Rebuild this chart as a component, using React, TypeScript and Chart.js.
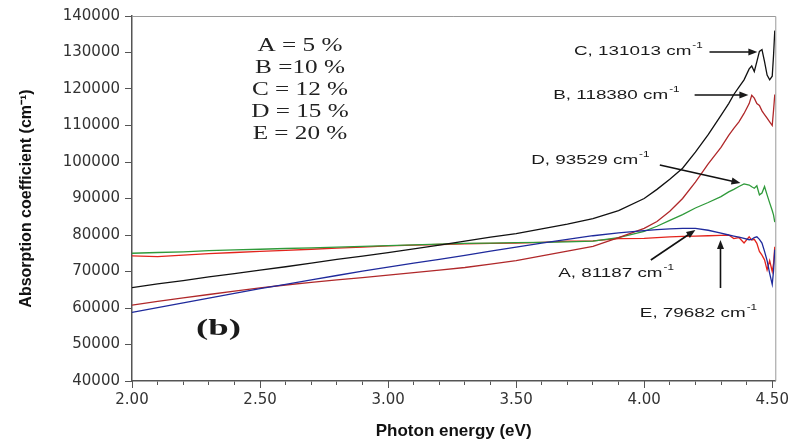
import React, { useEffect, useRef } from 'react';
import { Chart, registerables } from 'chart.js';

Chart.register(...registerables);

// Photon energy (eV), shared by every curve
const energy = [
  2.0, 2.1, 2.2, 2.3, 2.4, 2.5, 2.6, 2.7, 2.8, 2.9,
  3.0, 3.1, 3.2, 3.3, 3.4, 3.5, 3.6, 3.7, 3.8, 3.9,
  4.0, 4.05, 4.1, 4.15, 4.2, 4.25, 4.3,
  4.33, 4.35, 4.37, 4.39,
  4.41, 4.42, 4.43, 4.44, 4.45, 4.46, 4.47, 4.48, 4.49, 4.5,
  4.505, 4.51,
];

// A = 5 %
const seriesA = [
  58800, 60100, 61400, 62700, 64000, 65300, 66500, 67700, 68900, 70100,
  71200, 72300, 73300, 74400, 75600, 76700, 77800, 78800, 79800, 80600,
  81200, 81500, 81700, 81800, 81800, 81300, 80500,
  80000, 79700, 79400, 79100,
  78700, 78800, 79300, 79500, 78800, 77800, 75500, 73000, 69500, 66500,
  70000, 76000,
];

// B = 10 %
const seriesB = [
  60800, 61800, 62800, 63700, 64600, 65500, 66300, 67000, 67700, 68300,
  69000, 69700, 70400, 71100, 72000, 73000, 74300, 75600, 76900, 79300,
  81800, 83700, 86500, 90000, 94500, 99500, 104000,
  107300, 109200, 111000, 113300,
  116000, 118300, 117500, 116000, 115500, 114000, 113000, 112000, 111000, 110000,
  114000, 118500,
];

// C = 12 %
const seriesC = [
  65600, 66600, 67500, 68500, 69400, 70400, 71300, 72300, 73300, 74200,
  75200, 76200, 77200, 78300, 79400, 80400, 81700, 83000, 84500, 86700,
  90000, 92500, 95300, 98300, 102700, 107500, 112800,
  116000, 118500, 120500, 122500,
  125500, 126300, 124800, 127500, 130300, 130800, 127500, 123800, 122500, 123500,
  129000, 136000,
];

// D = 15 %
const seriesD = [
  75000, 75200, 75400, 75700, 75900, 76100, 76300, 76500, 76700, 76900,
  77100, 77300, 77500, 77700, 77800, 77900, 78000, 78100, 78300, 79300,
  81000, 82400, 84000, 85600, 87400, 88900, 90500,
  91800, 92500, 93300, 94000,
  93700, 93200, 92800, 93500, 91000, 91500, 93300, 91000, 88800, 86700,
  85500, 83500,
];

// E = 20 %
const seriesE = [
  74300, 74100, 74500, 74900, 75200, 75500, 75800, 76100, 76400, 76700,
  77000, 77200, 77400, 77600, 77700, 77800, 78000, 78300, 78400, 79000,
  79100, 79300, 79500, 79600, 79700, 79800, 79900,
  80000, 79000, 79300, 77800,
  79500, 78600, 78800, 77700, 75500, 74500, 73200, 70400, 73000, 70000,
  72000, 76800,
];

const seriesNames = ['A', 'B', 'C', 'D', 'E'];
const legendLines = ['A = 5 %', 'B =10 %', 'C = 12 %', 'D = 15 %', 'E = 20 %'];

// Peak annotations: label text, label anchor (eV, value), arrow tail and head (eV, value)
const noteTexts = ['C, 131013 cm', 'B, 118380 cm', 'D, 93529 cm', 'A, 81187 cm', 'E, 79682 cm'];
const noteLabelX = [3.726, 3.645, 3.559, 3.664, 3.983];
const noteLabelY = [130411, 118356, 100548, 69589, 58630];
const noteTailX = [4.255, 4.197, 4.061, 4.026, 4.298];
const noteTailY = [130137, 118356, 99178, 73151, 65479];
const noteHeadX = [4.442, 4.407, 4.376, 4.2, 4.298];
const noteHeadY = [130137, 118356, 94247, 81370, 78630];

const legendX = 2.656;
const legendTopY = 131780;
const legendStepY = 6027;
const panelLabel = '(b)';
const panelX = 2.338;
const panelY = 54247;

const colors = ['#1f2a9c', '#b0282a', '#111111', '#2f9a3a', '#e3241c'];

function drawStretched(
  ctx: CanvasRenderingContext2D,
  text: string,
  x: number,
  y: number,
  font: string,
  sx: number,
  align: 'left' | 'center'
): number {
  ctx.save();
  ctx.font = font;
  ctx.textBaseline = 'middle';
  ctx.textAlign = 'left';
  const w = ctx.measureText(text).width * sx;
  const x0 = align === 'center' ? x - w / 2 : x;
  ctx.translate(x0, y);
  ctx.scale(sx, 1);
  ctx.fillText(text, 0, 0);
  ctx.restore();
  return x0 + w;
}

function drawArrow(ctx: CanvasRenderingContext2D, x1: number, y1: number, x2: number, y2: number) {
  const ang = Math.atan2(y2 - y1, x2 - x1);
  const len = 9;
  const half = 3.5;
  ctx.beginPath();
  ctx.moveTo(x1, y1);
  ctx.lineTo(x2 - Math.cos(ang) * len * 0.8, y2 - Math.sin(ang) * len * 0.8);
  ctx.stroke();
  ctx.beginPath();
  ctx.moveTo(x2, y2);
  ctx.lineTo(
    x2 - Math.cos(ang) * len + Math.sin(ang) * half,
    y2 - Math.sin(ang) * len - Math.cos(ang) * half
  );
  ctx.lineTo(
    x2 - Math.cos(ang) * len - Math.sin(ang) * half,
    y2 - Math.sin(ang) * len + Math.cos(ang) * half
  );
  ctx.closePath();
  ctx.fill();
}

const decorPlugin = {
  id: 'decor',
  afterDatasetsDraw(chart: any) {
    const { ctx, chartArea, scales } = chart;
    const xs = scales.x;
    const ys = scales.y;
    ctx.save();

    // top and right frame
    ctx.strokeStyle = '#9a9a9a';
    ctx.lineWidth = 1;
    ctx.beginPath();
    ctx.moveTo(chartArea.left, chartArea.top + 0.5);
    ctx.lineTo(chartArea.right + 0.5, chartArea.top + 0.5);
    ctx.lineTo(chartArea.right + 0.5, chartArea.bottom);
    ctx.stroke();

    // longer major ticks on the x axis
    ctx.strokeStyle = '#555';
    ctx.lineWidth = 1;
    for (const t of xs.ticks) {
      const v = Number(t.value);
      if (Math.abs(v * 2 - Math.round(v * 2)) < 1e-6) {
        const px = Math.round(xs.getPixelForValue(v)) + 0.5;
        ctx.beginPath();
        ctx.moveTo(px, chartArea.bottom);
        ctx.lineTo(px, chartArea.bottom + 7);
        ctx.stroke();
      }
    }

    // composition legend
    ctx.fillStyle = '#222';
    legendLines.forEach((line, i) => {
      drawStretched(
        ctx,
        line,
        xs.getPixelForValue(legendX),
        ys.getPixelForValue(legendTopY - i * legendStepY),
        '18px "Liberation Serif"',
        1.4,
        'center'
      );
    });

    // panel label
    ctx.fillStyle = '#1a1a1a';
    drawStretched(
      ctx,
      panelLabel,
      xs.getPixelForValue(panelX),
      ys.getPixelForValue(panelY),
      'bold 23px "Liberation Serif"',
      1.6,
      'center'
    );

    // peak notes with arrows
    ctx.fillStyle = '#1a1a1a';
    ctx.strokeStyle = '#111';
    ctx.lineWidth = 1.6;
    noteTexts.forEach((txt, i) => {
      const lx = xs.getPixelForValue(noteLabelX[i]);
      const ly = ys.getPixelForValue(noteLabelY[i]);
      const end = drawStretched(ctx, txt, lx, ly, '13px "Liberation Sans"', 1.45, 'left');
      drawStretched(ctx, '-1', end + 1, ly - 5, '9px "Liberation Sans"', 1.3, 'left');
      drawArrow(
        ctx,
        xs.getPixelForValue(noteTailX[i]),
        ys.getPixelForValue(noteTailY[i]),
        xs.getPixelForValue(noteHeadX[i]),
        ys.getPixelForValue(noteHeadY[i])
      );
    });

    ctx.restore();
  },
};

export default function App() {
  const ref = useRef<HTMLCanvasElement | null>(null);

  useEffect(() => {
    if (!ref.current) return;
    const allSeries = [seriesA, seriesB, seriesC, seriesD, seriesE];
    const chart = new Chart(ref.current, {
      type: 'line',
      data: {
        datasets: allSeries.map((s, i) => ({
          label: seriesNames[i],
          data: energy.map((e, j) => ({ x: e, y: s[j] })),
          borderColor: colors[i],
          backgroundColor: colors[i],
          borderWidth: 1.3,
          pointRadius: 0,
          tension: 0,
          fill: false,
        })),
      },
      options: {
        animation: false,
        responsive: true,
        maintainAspectRatio: false,
        layout: { padding: { left: 0, top: 16, right: 17, bottom: 0 } },
        plugins: {
          legend: { display: false },
          tooltip: { enabled: false },
        },
        scales: {
          x: {
            type: 'linear',
            min: 2,
            max: 4.512,
            afterFit: (scale: any) => {
              scale.height = 62;
            },
            ticks: {
              stepSize: 0.1,
              includeBounds: false,
              autoSkip: false,
              maxRotation: 0,
              minRotation: 0,
              padding: 6,
              color: '#333',
              font: { family: '"DejaVu Sans"', size: 15 },
              callback: (v: any) => {
                const val = Number(v);
                return Math.abs(val * 2 - Math.round(val * 2)) < 1e-6 ? val.toFixed(2) : '';
              },
            },
            grid: {
              display: true,
              drawOnChartArea: false,
              drawTicks: true,
              tickLength: 4,
              tickColor: '#555',
            },
            border: { display: true, color: '#555', width: 1.5 },
            title: {
              display: true,
              text: 'Photon energy (eV)',
              color: '#111',
              font: { family: '"Liberation Sans"', size: 17, weight: 'bold' },
              padding: { top: 0, bottom: 1 },
            },
          },
          y: {
            type: 'linear',
            min: 40000,
            max: 140000,
            afterFit: (scale: any) => {
              scale.width = 132;
            },
            ticks: {
              stepSize: 10000,
              padding: 5,
              color: '#333',
              font: { family: '"DejaVu Sans"', size: 15 },
              callback: (v: any) => String(Math.round(Number(v))),
            },
            grid: {
              display: true,
              drawOnChartArea: false,
              drawTicks: true,
              tickLength: 7,
              tickColor: '#555',
            },
            border: { display: true, color: '#555', width: 1.5 },
            title: {
              display: true,
              text: 'Absorption coefficient (cm⁻¹)',
              color: '#111',
              font: { family: '"Liberation Sans"', size: 16, weight: 'bold' },
              padding: { top: 17, bottom: 0 },
            },
          },
        },
      },
      plugins: [decorPlugin],
    } as any);
    return () => chart.destroy();
  }, []);

  return (
    <div
      style={{
        position: 'absolute',
        left: 0,
        top: 0,
        width: 795,
        height: 443,
        background: '#ffffff',
      }}
    >
      <canvas ref={ref} />
    </div>
  );
}
